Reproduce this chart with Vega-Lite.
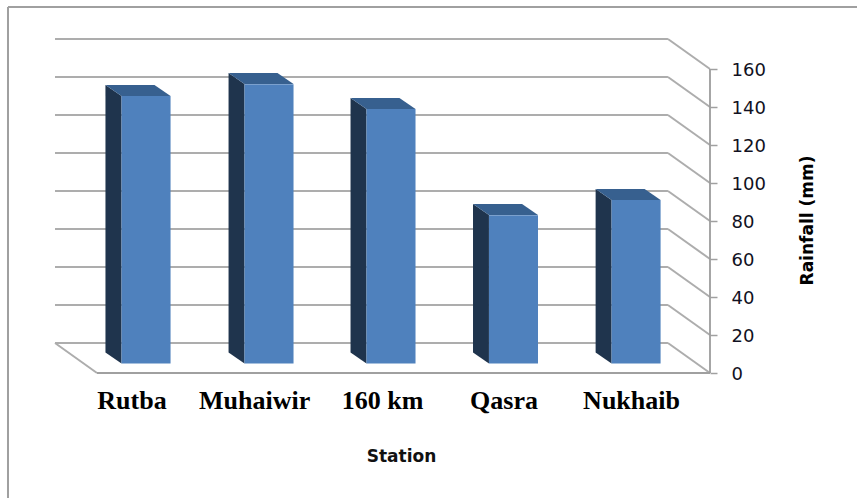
{"$schema":"https://vega.github.io/schema/vega-lite/v6.json","width":655,"height":334,"autosize":"none","padding":{"left":55,"top":39,"right":147,"bottom":125},"background":"white","view":{"stroke":null},
"datasets":{
"bars":[{"station":"Rutba","rainfall":140.8,"left":0.2,"right":0.6},{"station":"Muhaiwir","rainfall":147,"left":1.203,"right":1.603},{"station":"160 km","rainfall":134,"left":2.198,"right":2.598},{"station":"Qasra","rainfall":78,"left":3.197,"right":3.597},{"station":"Nukhaib","rainfall":86,"left":4.197,"right":4.597}],
"walls":[{"value":0,"back":15.8},{"value":20,"back":35.8},{"value":40,"back":55.8},{"value":60,"back":75.8},{"value":80,"back":95.8},{"value":100,"back":115.8},{"value":120,"back":135.8},{"value":140,"back":155.8},{"value":160,"back":175.8}],
"sides":[
{"station":"Rutba","x":0.069,"upper":151.58,"lower":10.79},{"station":"Rutba","x":0.2,"upper":145.79,"lower":5},
{"station":"Muhaiwir","x":1.073,"upper":157.89,"lower":10.79},{"station":"Muhaiwir","x":1.203,"upper":152.11,"lower":5},
{"station":"160 km","x":2.068,"upper":144.74,"lower":10.79},{"station":"160 km","x":2.198,"upper":138.95,"lower":5},
{"station":"Qasra","x":3.067,"upper":88.95,"lower":10.79},{"station":"Qasra","x":3.197,"upper":83.16,"lower":5},
{"station":"Nukhaib","x":4.067,"upper":96.84,"lower":10.79},{"station":"Nukhaib","x":4.197,"upper":91.05,"lower":5}],
"tops":[
{"station":"Rutba","x":0.069,"upper":151.58,"lower":151.58},{"station":"Rutba","x":0.2,"upper":151.58,"lower":145.79},{"station":"Rutba","x":0.469,"upper":151.58,"lower":145.79},{"station":"Rutba","x":0.6,"upper":145.79,"lower":145.79},
{"station":"Muhaiwir","x":1.073,"upper":157.89,"lower":157.89},{"station":"Muhaiwir","x":1.203,"upper":157.89,"lower":152.11},{"station":"Muhaiwir","x":1.472,"upper":157.89,"lower":152.11},{"station":"Muhaiwir","x":1.603,"upper":152.11,"lower":152.11},
{"station":"160 km","x":2.068,"upper":144.74,"lower":144.74},{"station":"160 km","x":2.198,"upper":144.74,"lower":138.95},{"station":"160 km","x":2.467,"upper":144.74,"lower":138.95},{"station":"160 km","x":2.598,"upper":138.95,"lower":138.95},
{"station":"Qasra","x":3.067,"upper":88.95,"lower":88.95},{"station":"Qasra","x":3.197,"upper":88.95,"lower":83.16},{"station":"Qasra","x":3.467,"upper":88.95,"lower":83.16},{"station":"Qasra","x":3.597,"upper":83.16,"lower":83.16},
{"station":"Nukhaib","x":4.067,"upper":96.84,"lower":96.84},{"station":"Nukhaib","x":4.197,"upper":96.84,"lower":91.05},{"station":"Nukhaib","x":4.467,"upper":96.84,"lower":91.05},{"station":"Nukhaib","x":4.597,"upper":91.05,"lower":91.05}]
},
"layer":[
{"data":{"name":"walls"},"mark":{"type":"rule","color":"#adadad","strokeWidth":2},
 "encoding":{
  "x":{"datum":-0.3426,"type":"quantitative","scale":{"domain":[-0.3426,5],"nice":false,"zero":false},
   "axis":{"values":[0.281,1.281,2.325,3.316,4.356],"labelExpr":"['Rutba','Muhaiwir','160 km','Qasra','Nukhaib'][floor(datum.value)]","labelFont":"Liberation Serif","labelFontWeight":"bold","labelFontSize":26,"labelColor":"#000000","labelPadding":14,"labelOverlap":false,"labelFlush":false,"domain":false,"ticks":false,"grid":false,"title":"Station","titleFont":"DejaVu Sans","titleFontWeight":"bold","titleFontSize":17,"titleColor":"#111111","titleX":346,"titleY":88,"titleAlign":"center","titleBaseline":"alphabetic"}},
  "x2":{"datum":4.657},
  "y":{"field":"back","type":"quantitative","scale":{"domain":[0,175.8],"nice":false,"zero":false},
   "axis":{"orient":"right","values":[0,20,40,60,80,100,120,140,160],"domain":false,"grid":false,"tickColor":"#a0a0a0","tickWidth":1.5,"tickSize":7,"labelFont":"DejaVu Sans","labelFontSize":18,"labelColor":"#111122","labelPadding":14,"labelAlign":"left","labelOffset":1,"title":"Rainfall (mm)","titleFont":"DejaVu Sans","titleFontWeight":"bold","titleFontSize":17,"titleColor":"#000000","titleAngle":270,"titleX":97,"titleY":181,"titleAlign":"center","titleBaseline":"middle"}}}},
{"data":{"name":"walls"},"mark":{"type":"rule","color":"#adadad","strokeWidth":2},
 "encoding":{"x":{"datum":4.657,"type":"quantitative"},"x2":{"datum":5},"y":{"field":"back","type":"quantitative"},"y2":{"field":"value"}}},
{"mark":{"type":"rule","color":"#adadad","strokeWidth":2},"data":{"values":[{"value":0,"back":15.8}]},
 "encoding":{"x":{"datum":-0.3426,"type":"quantitative"},"x2":{"datum":0},"y":{"field":"back","type":"quantitative"},"y2":{"field":"value"}}},
{"mark":{"type":"rule","color":"#a0a0a0","strokeWidth":2.2},"data":{"values":[{"value":0}]},
 "encoding":{"x":{"datum":0,"type":"quantitative"},"x2":{"datum":5},"y":{"field":"value","type":"quantitative"}}},
{"mark":{"type":"rule","color":"#9c9c9c","strokeWidth":1.8},"data":{"values":[{"low":0,"high":160}]},
 "encoding":{"x":{"datum":5,"type":"quantitative"},"y":{"field":"low","type":"quantitative"},"y2":{"field":"high"}}},
{"mark":{"type":"rule","color":"#a0a0a0","strokeWidth":2},"data":{"values":[{"low":-65.8,"high":192.6}]},
 "encoding":{"x":{"datum":-0.726,"type":"quantitative"},"y":{"field":"low","type":"quantitative"},"y2":{"field":"high"}}},
{"mark":{"type":"rule","color":"#a0a0a0","strokeWidth":2},"data":{"values":[{"value":192.6}]},
 "encoding":{"x":{"datum":-0.726,"type":"quantitative"},"x2":{"datum":6.2},"y":{"field":"value","type":"quantitative"}}},
{"data":{"name":"sides"},"mark":{"type":"area","color":"#1f344d","opacity":1},
 "encoding":{"x":{"field":"x","type":"quantitative"},"y":{"field":"upper","type":"quantitative"},"y2":{"field":"lower"},"detail":{"field":"station"}}},
{"data":{"name":"tops"},"mark":{"type":"area","color":"#37608f","opacity":1},
 "encoding":{"x":{"field":"x","type":"quantitative"},"y":{"field":"upper","type":"quantitative"},"y2":{"field":"lower"},"detail":{"field":"station"}}},
{"data":{"name":"bars"},"mark":{"type":"rect","color":"#4f81bd","yOffset":-9.5,"y2Offset":-9.5},
 "encoding":{"x":{"field":"left","type":"quantitative"},"x2":{"field":"right"},"y":{"field":"rainfall","type":"quantitative"},"y2":{"datum":0}}}
]}
